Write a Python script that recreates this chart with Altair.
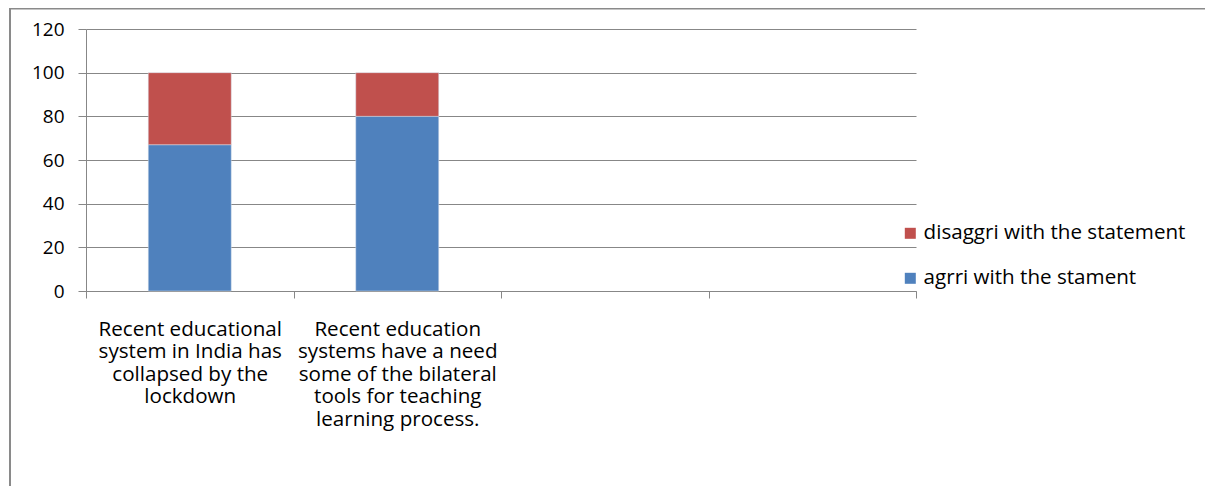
import altair as alt
import pandas as pd

# category labels ("|" marks line breaks); last two slots are empty in the source chart
categories = [
    "Recent educational|system in India has|collapsed by the|lockdown",
    "Recent education|systems have a need|some of the bilateral|tools for teaching|learning process.",
    " ",
    "  ",
]
series = ["agrri with the stament", "disaggri with the statement"]
agree = [67, 80]
disagree = [33, 20]
y_ticks = [0, 20, 40, 60, 80, 100, 120]

rows = []
for i, v in enumerate(agree):
    rows.append({"category": categories[i], "series": series[0], "value": v, "ord": 0})
for i, v in enumerate(disagree):
    rows.append({"category": categories[i], "series": series[1], "value": v, "ord": 1})
df = pd.DataFrame(rows)

FONT = "Open Sans"
GRID = "#878787"
W = 830
STEP = W / len(categories)

xscale = alt.Scale(domain=categories, paddingInner=0.6, paddingOuter=0.3)
yscale = alt.Scale(domain=[0, 120])
y_axis = alt.Axis(
    title=None,
    values=y_ticks,
    labelFont=FONT,
    labelFontSize=19,
    labelColor="#000000",
    labelPadding=14,
    tickColor=GRID,
    tickSize=8,
    domainColor=GRID,
    gridColor=GRID,
    grid=True,
)

bars = alt.Chart(df).mark_bar(stroke="#d8e2ef", strokeWidth=0.5).encode(
    x=alt.X(
        "category:N",
        scale=xscale,
        sort=categories,
        axis=alt.Axis(
            title=None,
            orient="bottom",
            labelAngle=0,
            labelExpr="split(datum.value, '|')",
            labelBaseline="top",
            labelAlign="center",
            labelLineHeight=22.5,
            labelPadding=21,
            labelFont=FONT,
            labelFontSize=20.6,
            labelColor="#000000",
            tickOffset=-STEP / 2,
            labelOffset=STEP / 2,
            tickColor=GRID,
            tickSize=7,
            domainColor=GRID,
            grid=False,
            labelLimit=0,
        ),
    ),
    y=alt.Y("value:Q", stack="zero", scale=yscale, axis=y_axis),
    color=alt.Color(
        "series:N",
        scale=alt.Scale(domain=[series[1], series[0]], range=["#C0504D", "#4F81BD"]),
        legend=alt.Legend(
            title=None,
            orient="none",
            legendX=814,
            legendY=194,
            symbolType="square",
            symbolSize=121,
            symbolStrokeWidth=0,
            labelFont=FONT,
            labelFontSize=20.6,
            labelColor="#000000",
            labelOffset=3,
            rowPadding=24,
            labelLimit=0,
        ),
    ),
    order=alt.Order("ord:Q"),
)

# extra axis carrying only the closing tick at the right end of the category axis
end_tick = alt.Chart(df).mark_point(opacity=0).encode(
    x=alt.X(
        "category:N",
        scale=xscale,
        sort=categories,
        axis=alt.Axis(
            title=None,
            orient="bottom",
            values=[categories[-1]],
            labels=False,
            domain=False,
            grid=False,
            tickOffset=STEP / 2,
            tickColor=GRID,
            tickSize=7,
        ),
    ),
    y=alt.Y("value:Q", stack="zero", scale=yscale, axis=y_axis),
)

frame = alt.Chart(pd.DataFrame({"a": [0]})).mark_rect(
    filled=False, stroke="#8a8a8a", strokeWidth=2
).encode(
    x=alt.value(-76),
    x2=alt.value(1400),
    y=alt.value(-20.5),
    y2=alt.value(800),
)

chart = alt.layer(bars, end_tick, frame).resolve_axis(x="independent").properties(
    width=W,
    height=262,
    autosize=alt.AutoSizeParams(type="none"),
    padding={"left": 78, "top": 21, "right": 289, "bottom": 195},
).configure_view(stroke=None)

chart.save("out.html", embed_options={"renderer": "svg", "actions": False})
